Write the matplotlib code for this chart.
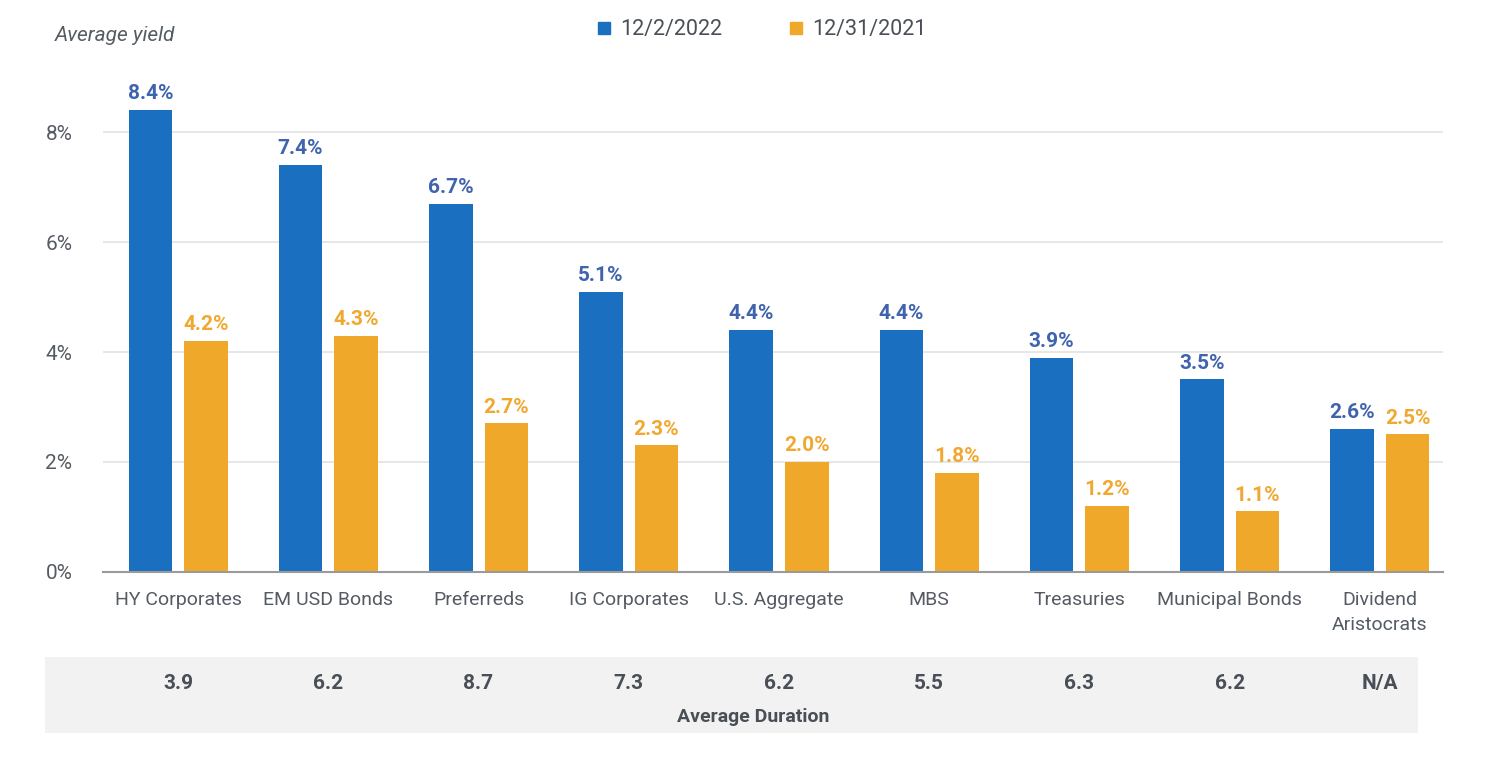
import numpy as np
import matplotlib
matplotlib.use("Agg")
import matplotlib.pyplot as plt
from matplotlib.patches import Rectangle
from matplotlib.lines import Line2D
import matplotlib.transforms as mtransforms

plt.rcParams['font.family'] = ['Liberation Sans Narrow', 'Roboto', 'DejaVu Sans']

# data
categories = ["HY Corporates", "EM USD Bonds", "Preferreds", "IG Corporates",
              "U.S. Aggregate", "MBS", "Treasuries", "Municipal Bonds",
              "Dividend\nAristocrats"]
yield_2022 = [8.4, 7.4, 6.7, 5.1, 4.4, 4.4, 3.9, 3.5, 2.6]
yield_2021 = [4.2, 4.3, 2.7, 2.3, 2.0, 1.8, 1.2, 1.1, 2.5]
durations = ["3.9", "6.2", "8.7", "7.3", "6.2", "5.5", "6.3", "6.2", "N/A"]
series_names = ["12/2/2022", "12/31/2021"]

BLUE = "#1a6fc0"
ORANGE = "#f0a82a"
BLUE_TXT = "#3f64ad"
ORANGE_TXT = "#f0a830"
GRAY_TXT = "#555b63"

fig = plt.figure(figsize=(14.86, 7.78), dpi=100)

# duration band (behind everything)
fig.patches.append(Rectangle((0.0303, 0.0578), 0.924, 0.0977, transform=fig.transFigure,
                             facecolor="#f2f2f2", edgecolor="none", zorder=-5))

ax = fig.add_axes([0.0693, 0.2648, 0.9017, 0.6362])

x = np.arange(len(categories))
w = 0.29
off = 0.185
b1 = ax.bar(x - off, yield_2022, w, color=BLUE, zorder=3)
b2 = ax.bar(x + off, yield_2021, w, color=ORANGE, zorder=3)

for rect, v in zip(b1, yield_2022):
    ax.annotate(f"{v:.1f}%", (rect.get_x() + rect.get_width() / 2, v),
                xytext=(0, 5), textcoords="offset points", ha="center", va="bottom",
                fontsize=15, fontweight="bold", color=BLUE_TXT)
for rect, v in zip(b2, yield_2021):
    ax.annotate(f"{v:.1f}%", (rect.get_x() + rect.get_width() / 2, v),
                xytext=(0, 5), textcoords="offset points", ha="center", va="bottom",
                fontsize=15, fontweight="bold", color=ORANGE_TXT)

ax.set_xlim(-0.5, 8.42)
ax.set_ylim(0, 9.0)
ax.set_yticks([0, 2, 4, 6, 8])
ax.set_yticklabels(["0%", "2%", "4%", "6%", "8%"])
ax.set_xticks(x)
ax.set_xticklabels(categories, va="top", linespacing=1.5)
ax.tick_params(axis="both", length=0, labelsize=14, labelcolor=GRAY_TXT)
ax.tick_params(axis="y", labelsize=15, pad=22)
ax.tick_params(axis="x", pad=14)
ax.yaxis.grid(True, color="#e3e3e3", linewidth=1.2, zorder=0)
for s in ["top", "right", "left"]:
    ax.spines[s].set_visible(False)
ax.spines["bottom"].set_color("#9a9a9a")
ax.spines["bottom"].set_linewidth(1.5)
ax.spines["bottom"].set_zorder(4)

# y axis caption
fig.text(0.037, 0.955, "Average yield", style="italic", fontsize=15,
         color=GRAY_TXT, ha="left", va="center")

# legend
handles = [Line2D([], [], marker="s", linestyle="none", markersize=9, color=BLUE),
           Line2D([], [], marker="s", linestyle="none", markersize=9, color=ORANGE)]
fig.legend(handles, series_names, loc="center", bbox_to_anchor=(0.512, 0.962), ncol=2,
           frameon=False, fontsize=15.5, handlelength=0.8, handletextpad=0.35,
           columnspacing=3.0, labelcolor="#4a4f57")

# durations under each group
trans = mtransforms.blended_transform_factory(ax.transData, fig.transFigure)
for xi, d in zip(x, durations):
    fig.text(xi, 0.122, d, transform=trans, ha="center", va="center", fontsize=15,
             fontweight="bold", color="#4a4f57")
fig.text(0.507, 0.078, "Average Duration", ha="center", va="center", fontsize=14,
         fontweight="bold", color="#4a4f57")

fig.savefig("out.png", dpi=100)
